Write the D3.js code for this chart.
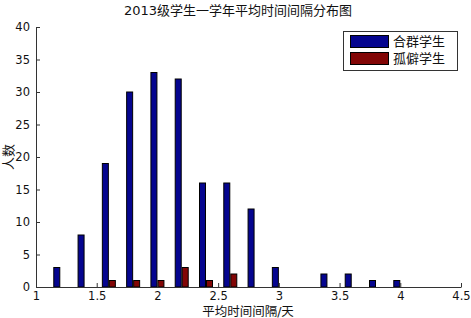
<!DOCTYPE html>
<html><head><meta charset="utf-8">
<script src="https://cdn.jsdelivr.net/npm/d3@7"></script>
<style>
body{margin:0;background:#fff;}
text{font-family:"DejaVu Sans","Noto Sans CJK SC",sans-serif;}
</style></head>
<body>
<svg id="c" width="471" height="318"></svg>
<script>
const binCenters = [1.2,1.4,1.6,1.8,2.0,2.2,2.4,2.6,2.8,3.0,3.2,3.4,3.6,3.8,4.0];
const sociable = [3,8,19,30,33,32,16,16,12,3,0,2,2,1,1];
const solitary = [0,0,1,1,1,3,1,2,0,0,0,0,0,0,0];
const seriesNames = ["合群学生","孤僻学生"];
const seriesColors = ["#05058f","#820606"];
const xTicks = [1,1.5,2,2.5,3,3.5,4,4.5];
const yTicks = [0,5,10,15,20,25,30,35,40];
const title = "2013级学生一学年平均时间间隔分布图";
const xLabel = "平均时间间隔/天";
const yLabel = "人数";

const svg = d3.select("#c");
const m = {l:36, r:10, t:27, b:31};
const W = 471, H = 318;
const x = d3.scaleLinear().domain([1,4.5]).range([m.l, W-m.r]);
const y = d3.scaleLinear().domain([0,40]).range([H-m.b, m.t]);
const bw = 6, off = 3.5;

const series = [sociable, solitary];
series.forEach((vals, si) => {
  svg.append("g").selectAll("rect").data(vals.map((v,i)=>({c:binCenters[i], v})))
    .join("rect")
    .attr("x", d => x(d.c) + (si===0 ? -off : off) - bw/2)
    .attr("y", d => y(d.v))
    .attr("width", bw)
    .attr("height", d => y(0) - y(d.v))
    .attr("fill", seriesColors[si])
    .attr("stroke", "#000")
    .attr("stroke-width", 1);
});

const xa = svg.append("g").attr("transform", `translate(0,${y(0)})`)
  .call(d3.axisBottom(x).tickValues(xTicks).tickFormat(d3.format("")).tickSizeInner(-4).tickSizeOuter(0).tickPadding(5));
const ya = svg.append("g").attr("transform", `translate(${m.l},0)`)
  .call(d3.axisLeft(y).tickValues(yTicks).tickSizeInner(-4).tickSizeOuter(0).tickPadding(6));
[xa, ya].forEach(a => {
  a.selectAll("text").attr("font-size", 11.5).attr("fill", "#111");
  a.select(".domain").attr("stroke", "#333");
  a.selectAll(".tick line").attr("stroke", "#333");
});

svg.append("text").attr("x", 238).attr("y", 15).attr("text-anchor","middle")
  .attr("font-size", 13).attr("fill","#111").text(title);
svg.append("text").attr("x", 248).attr("y", 316).attr("text-anchor","middle")
  .attr("font-size", 12.5).attr("fill","#111").text(xLabel);
svg.append("text").attr("transform","translate(13,157) rotate(-90)").attr("text-anchor","middle")
  .attr("font-size", 13).attr("fill","#111").text(yLabel);

const lg = svg.append("g");
lg.append("rect").attr("x",343.5).attr("y",31.5).attr("width",114).attr("height",39)
  .attr("fill","#fff").attr("stroke","#333");
seriesNames.forEach((n,i)=>{
  lg.append("rect").attr("x",350.5).attr("y",35.5+i*17).attr("width",38).attr("height",12)
    .attr("fill",seriesColors[i]).attr("stroke","#000");
  lg.append("text").attr("x",393).attr("y",46+i*17).attr("font-size",13).attr("fill","#111").text(n);
});
</script>
</body></html>
